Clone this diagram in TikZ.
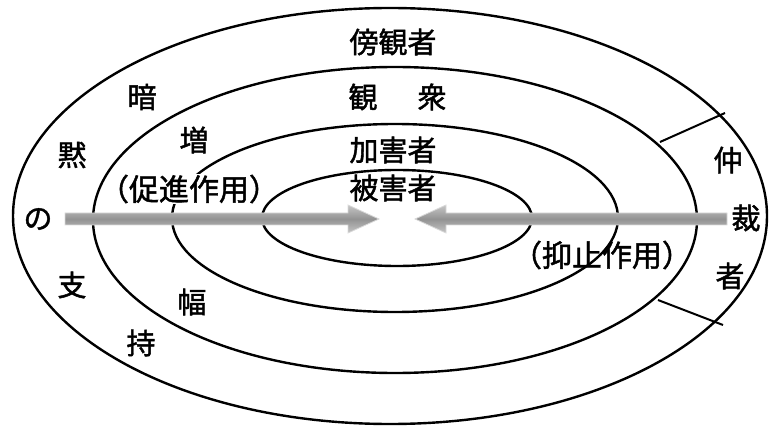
\documentclass[tikz,border=0pt]{standalone}
\usepackage{fontspec}
\setmainfont{Noto Sans CJK JP}[FakeBold=1.5]
\begin{document}
\begin{tikzpicture}[x=1pt,y=-1pt,
  ring/.style={line width=2.4pt,black},
  lbl/.style={inner sep=0pt,font=\fontsize{29pt}{30pt}\selectfont},
  plbl/.style={inner sep=0.5pt,font=\fontsize{30pt}{31pt}\selectfont},
  band/.style={top color=gray!45,bottom color=gray!45,middle color=gray!85,draw=gray!30,line width=0.8pt},
  divider/.style={line width=2pt,black}]
\useasboundingbox (0,0) rectangle (770,430);
% rings
\draw[ring] (390,216) ellipse [x radius=377pt, y radius=208pt];
\draw[ring] (395,218) ellipse [x radius=223pt, y radius=94pt];
\node[plbl,fill=white] (sokushin) at (189,189) {（促進作用）};
\draw[ring] (395,220) ellipse [x radius=302pt, y radius=153pt];
\draw[ring] (397,218) ellipse [x radius=135pt, y radius=48pt];
% dividers for mediator
\coordinate (u1) at (660,142);
\coordinate (u2) at (725,113);
\coordinate (d1) at (658,300);
\coordinate (d2) at (723,325);
\draw[divider] (u1) -- (u2);
\draw[divider] (d1) -- (d2);
% arrows
\draw[band] (65,213) -- (348,213) -- (348,205) -- (379,219) -- (348,233) -- (348,225) -- (65,225) -- cycle;
\draw[band] (727,213) -- (446,213) -- (446,205) -- (415,219) -- (446,233) -- (446,225) -- (727,225) -- cycle;
% labels
\node[lbl] (bokan) at (393,42) {傍観者};
\node[lbl] (kan) at (363,97) {観};
\node[lbl] (shu) at (432,97) {衆};
\node[lbl] (kagai) at (393,150) {加害者};
\node[lbl] (higai) at (393,188) {被害者};
\node[lbl] (an) at (142,97) {暗};
\node[lbl] (zo) at (194,140) {増};
\node[lbl] (moku) at (72,155) {黙};
\node[lbl] (no) at (38,219) {の};
\node[lbl] (shi) at (72,285) {支};
\node[lbl] (ji) at (141,343) {持};
\node[lbl] (fuku) at (192,302) {幅};
\node[plbl] (yokushi) at (602,255) {（抑止作用）};
\node[lbl] (chu) at (728,160) {仲};
\node[lbl] (sai) at (746,218) {裁};
\node[lbl] (sha) at (730,276) {者};
\end{tikzpicture}
\end{document}
